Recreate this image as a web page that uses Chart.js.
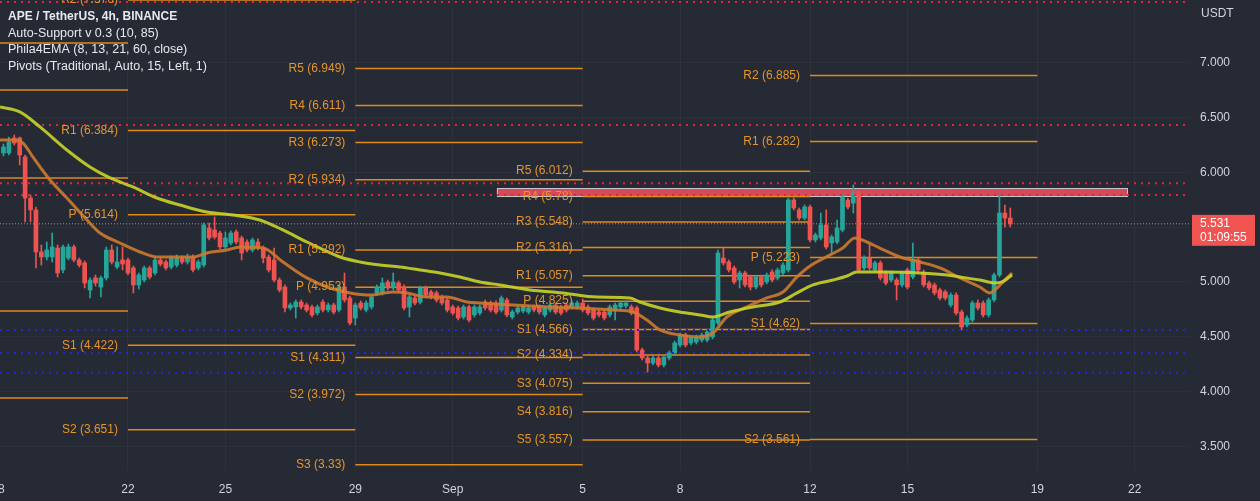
<!DOCTYPE html>
<html>
<head>
<meta charset="utf-8">
<script src="https://cdn.jsdelivr.net/npm/chart.js@4.4.0/dist/chart.umd.min.js"></script>
<style>
  html, body { margin: 0; padding: 0; background: #262a34; }
  #wrap { width: 1260px; height: 501px; }
</style>
</head>
<body>
<div id="wrap"><canvas id="chart" width="1260" height="501"></canvas></div>
<script>
// 4h candles, first one at Aug 18 04:00 (days counted from Aug 1 = 1, Sep 1 = 32)
var firstCandleDay = 18 + 4 / 24;
var candleHours = 4;

var opens = [
  6.178, 6.178, 6.315, 6.315, 6.142, 5.767, 5.658, 5.274, 5.228, 5.228,
  5.310, 5.110, 5.219, 5.320, 5.201, 5.174, 4.927, 5.037, 4.954, 5.037,
  5.292, 5.137, 5.201, 5.201, 5.128, 4.973, 5.018, 5.128, 5.082, 5.201,
  5.183, 5.137, 5.155, 5.219, 5.183, 5.228, 5.128, 5.155, 5.493, 5.475,
  5.447, 5.320, 5.356, 5.457,
  5.402, 5.365, 5.292, 5.365, 5.310, 5.228, 5.201, 5.018, 4.954, 4.763,
  4.772, 4.817, 4.790, 4.772, 4.717, 4.817, 4.744, 4.790, 4.744, 4.954,
  4.854, 4.671, 4.808, 4.744, 4.772, 4.900, 4.900, 5.000, 4.945, 4.991,
  4.954, 4.772, 4.854, 4.817, 4.945, 4.909, 4.900, 4.863, 4.836, 4.772,
  4.763, 4.680, 4.772, 4.699,
  4.717, 4.817, 4.808, 4.808, 4.744, 4.836, 4.680, 4.726, 4.735, 4.726,
  4.772, 4.772, 4.699, 4.744, 4.790, 4.772, 4.790, 4.772, 4.772, 4.808,
  4.772, 4.744, 4.726, 4.726, 4.699, 4.744, 4.772, 4.781, 4.772, 4.763,
  4.379, 4.306, 4.260, 4.306, 4.242, 4.306, 4.352, 4.425, 4.516, 4.443,
  4.452, 4.470, 4.470, 4.498,
  4.626, 5.219, 5.183, 5.128, 5.018, 5.082, 5.046, 4.954, 5.046, 5.000,
  5.091, 5.037, 5.082, 5.110, 5.749, 5.658, 5.584, 5.685, 5.384, 5.402,
  5.521, 5.356, 5.365, 5.475, 5.749, 5.721, 5.813, 5.128, 5.219, 5.110,
  5.174, 5.082, 5.018, 5.018, 4.973, 5.110, 5.046, 5.201, 5.091, 4.991,
  4.973, 4.927, 4.909, 4.790, 4.881, 4.726, 4.607, 4.653, 4.808, 4.808,
  4.699, 4.836, 5.064, 5.630, 5.584
];
var highs = [
  6.260, 6.324, 6.342, 6.324, 6.160, 5.795, 5.685, 5.338, 5.365, 5.447,
  5.338, 5.338, 5.347, 5.338, 5.219, 5.192, 5.037, 5.064, 5.055, 5.320,
  5.338, 5.320, 5.320, 5.219, 5.146, 5.082, 5.146, 5.146, 5.228, 5.228,
  5.201, 5.238, 5.247, 5.238, 5.256, 5.247, 5.201, 5.539, 5.539, 5.594,
  5.466, 5.457, 5.466, 5.475,
  5.420, 5.384, 5.402, 5.393, 5.329, 5.247, 5.310, 5.037, 4.973, 4.808,
  4.836, 4.836, 4.808, 4.790, 4.790, 4.836, 4.808, 4.808, 4.973, 5.082,
  4.872, 4.808, 4.827, 4.827, 4.881, 4.973, 5.037, 5.018, 5.082, 5.009,
  4.973, 4.881, 4.872, 4.963, 4.963, 4.927, 4.918, 4.881, 4.854, 4.790,
  4.781, 4.790, 4.790, 4.790,
  4.790, 4.836, 4.827, 4.827, 4.872, 4.854, 4.744, 4.781, 4.790, 4.781,
  4.790, 4.790, 4.781, 4.808, 4.808, 4.790, 4.808, 4.827, 4.827, 4.845,
  4.790, 4.763, 4.744, 4.744, 4.790, 4.808, 4.827, 4.827, 4.790, 4.781,
  4.397, 4.324, 4.324, 4.324, 4.333, 4.370, 4.461, 4.534, 4.534, 4.507,
  4.516, 4.534, 4.562, 4.671,
  5.292, 5.310, 5.201, 5.146, 5.100, 5.100, 5.064, 5.064, 5.064, 5.082,
  5.110, 5.128, 5.174, 5.767, 5.767, 5.676, 5.703, 5.703, 5.447, 5.630,
  5.658, 5.429, 5.566, 5.795, 5.767, 5.886, 5.831, 5.238, 5.338, 5.192,
  5.192, 5.100, 5.100, 5.037, 5.100, 5.128, 5.356, 5.219, 5.110, 5.009,
  4.991, 4.945, 4.927, 4.900, 4.900, 4.744, 4.690, 4.827, 4.836, 4.827,
  4.854, 5.082, 5.795, 5.703, 5.676
];
var lows = [
  6.151, 6.160, 6.251, 6.068, 5.548, 5.548, 5.128, 5.155, 5.201, 5.183,
  5.046, 5.082, 5.201, 5.183, 5.137, 4.945, 4.854, 4.963, 4.863, 5.018,
  5.164, 5.119, 5.110, 5.064, 4.900, 4.936, 5.000, 5.027, 5.064, 5.146,
  5.110, 5.119, 5.137, 5.164, 5.164, 5.091, 5.110, 5.137, 5.384, 5.393,
  5.301, 5.301, 5.338, 5.347,
  5.201, 5.274, 5.274, 5.292, 5.174, 5.091, 5.000, 4.909, 4.726, 4.744,
  4.671, 4.753, 4.726, 4.680, 4.699, 4.726, 4.726, 4.708, 4.726, 4.817,
  4.607, 4.607, 4.744, 4.726, 4.753, 4.881, 4.881, 4.927, 4.927, 4.909,
  4.744, 4.680, 4.790, 4.799, 4.863, 4.845, 4.817, 4.790, 4.726, 4.699,
  4.653, 4.662, 4.635, 4.680,
  4.699, 4.744, 4.726, 4.708, 4.726, 4.680, 4.662, 4.708, 4.717, 4.708,
  4.726, 4.708, 4.680, 4.726, 4.708, 4.699, 4.726, 4.753, 4.753, 4.726,
  4.699, 4.653, 4.680, 4.653, 4.680, 4.653, 4.753, 4.763, 4.699, 4.361,
  4.288, 4.178, 4.242, 4.224, 4.224, 4.288, 4.333, 4.406, 4.406, 4.425,
  4.434, 4.452, 4.452, 4.480,
  4.607, 5.155, 5.091, 4.982, 4.945, 4.954, 4.927, 4.936, 4.954, 4.982,
  5.000, 5.018, 5.064, 5.091, 5.658, 5.566, 5.566, 5.365, 5.365, 5.384,
  5.301, 5.265, 5.347, 5.457, 5.667, 5.630, 5.091, 5.110, 5.110, 5.091,
  5.018, 4.973, 5.000, 4.836, 4.954, 4.936, 5.027, 5.091, 4.954, 4.927,
  4.881, 4.836, 4.836, 4.772, 4.699, 4.562, 4.589, 4.635, 4.744, 4.680,
  4.680, 4.817, 5.046, 5.502, 5.502
];
var closes = [
  6.233, 6.278, 6.269, 6.160, 5.767, 5.658, 5.274, 5.228, 5.292, 5.320,
  5.082, 5.320, 5.320, 5.201, 5.155, 4.991, 5.018, 4.991, 5.037, 5.292,
  5.183, 5.183, 5.164, 5.082, 4.973, 5.064, 5.128, 5.046, 5.201, 5.164,
  5.128, 5.219, 5.219, 5.183, 5.228, 5.110, 5.183, 5.521, 5.402, 5.411,
  5.320, 5.402, 5.447, 5.365,
  5.265, 5.292, 5.384, 5.310, 5.219, 5.110, 5.018, 4.927, 4.763, 4.790,
  4.817, 4.772, 4.744, 4.699, 4.772, 4.744, 4.790, 4.726, 4.954, 4.836,
  4.626, 4.790, 4.763, 4.808, 4.863, 4.954, 4.991, 4.945, 5.000, 4.927,
  4.763, 4.863, 4.808, 4.945, 4.881, 4.863, 4.836, 4.808, 4.744, 4.717,
  4.671, 4.772, 4.653, 4.772,
  4.772, 4.763, 4.744, 4.726, 4.854, 4.699, 4.726, 4.763, 4.772, 4.763,
  4.744, 4.726, 4.763, 4.790, 4.726, 4.717, 4.744, 4.808, 4.808, 4.744,
  4.717, 4.671, 4.699, 4.671, 4.772, 4.790, 4.808, 4.808, 4.717, 4.379,
  4.306, 4.260, 4.306, 4.242, 4.315, 4.352, 4.443, 4.516, 4.425, 4.489,
  4.498, 4.516, 4.543, 4.653,
  5.265, 5.174, 5.110, 5.000, 5.082, 4.973, 4.954, 5.046, 4.973, 5.064,
  5.018, 5.110, 5.155, 5.749, 5.676, 5.584, 5.685, 5.384, 5.429, 5.521,
  5.320, 5.411, 5.493, 5.776, 5.685, 5.813, 5.110, 5.219, 5.128, 5.174,
  5.037, 4.991, 5.082, 4.973, 5.082, 4.954, 5.201, 5.110, 4.973, 4.945,
  4.900, 4.854, 4.854, 4.881, 4.717, 4.589, 4.671, 4.808, 4.763, 4.699,
  4.836, 5.064, 5.630, 5.584, 5.531
];

// Phila4EMA lines
var emaFastDays = [18.06, 18.46, 18.77, 19.07, 19.60, 20.12, 20.74, 21.14, 21.75, 22.37,
  22.89, 23.51, 24.00, 24.43, 25.05, 25.45, 26.16, 26.77, 27.51, 28.22,
  28.84, 29.45, 30.16, 30.59, 31.21, 31.82, 32.44, 32.84, 33.85, 34.90,
  35.92, 36.93, 37.55, 37.98, 38.38, 38.99, 39.61, 40.01, 40.44, 41.06,
  41.67, 42.17, 42.60, 43.00, 43.62, 44.01, 44.38, 44.75, 45.15, 45.77,
  46.38, 47.00, 47.62, 48.23, 48.54, 48.69, 48.91, 49.22];
var emaFast = [6.297, 6.297, 6.269, 6.142, 5.931, 5.767, 5.566, 5.447, 5.356, 5.274,
  5.228, 5.228, 5.228, 5.265, 5.292, 5.320, 5.310, 5.183, 5.037, 4.945,
  4.900, 4.881, 4.909, 4.900, 4.863, 4.863, 4.817, 4.808, 4.790, 4.772,
  4.763, 4.744, 4.726, 4.653, 4.562, 4.516, 4.498, 4.534, 4.680, 4.772,
  4.854, 4.909, 5.046, 5.146, 5.247, 5.310, 5.402, 5.365, 5.310, 5.228,
  5.183, 5.128, 5.037, 4.954, 4.900, 4.927, 4.991, 5.082];
var emaSlowDays = [18.06, 18.67, 19.29, 20.12, 20.83, 21.45, 22.15, 22.89, 23.60, 24.43,
  25.23, 26.06, 26.77, 27.51, 27.91, 28.53, 29.14, 29.76, 30.37, 30.99,
  31.61, 32.22, 32.84, 33.45, 34.38, 35.39, 36.44, 37.46, 37.76, 38.38,
  38.99, 39.61, 40.01, 40.53, 41.24, 42.07, 42.60, 43.09, 43.71, 44.14,
  44.44, 45.37, 46.38, 47.22, 47.62, 48.23, 48.69, 48.91, 49.22];
var emaSlow = [6.598, 6.553, 6.416, 6.205, 6.050, 5.950, 5.868, 5.767, 5.703, 5.639,
  5.612, 5.566, 5.475, 5.365, 5.310, 5.228, 5.183, 5.155, 5.137, 5.110,
  5.082, 5.046, 5.000, 4.973, 4.927, 4.900, 4.863, 4.854, 4.817, 4.763,
  4.726, 4.699, 4.680, 4.726, 4.772, 4.817, 4.900, 4.973, 5.018, 5.055,
  5.091, 5.091, 5.082, 5.064, 5.046, 5.018, 4.991, 5.000, 5.064];

// weekly pivots (Traditional)
var pivotStart = [15, 22, 29, 36, 43];
var pivotEnd = [22, 29, 36, 43, 50];
var pivotNames = [
  ["", "", "", "", ""],
  ["R2", "R1", "P", "S1", "S2"],
  ["R5", "R4", "R3", "R2", "R1", "P", "S1", "S2", "S3"],
  ["R5", "R4", "R3", "R2", "R1", "P", "S1", "S2", "S3", "S4", "S5"],
  ["R2", "R1", "P", "S1", "S2"]
];
var pivotValues = [
  [7.183, 6.753, 5.95, 4.735, 3.941],
  [7.576, 6.384, 5.614, 4.422, 3.651],
  [6.949, 6.611, 6.273, 5.934, 5.292, 4.953, 4.311, 3.972, 3.33],
  [6.012, 5.78, 5.548, 5.316, 5.057, 4.825, 4.566, 4.334, 4.075, 3.816, 3.557],
  [6.885, 6.282, 5.223, 4.62, 3.561]
];

// Auto-Support levels
var resistLevels = [7.557, 6.434, 5.901, 5.795];
var supportLevels = [4.562, 4.352, 4.171];
var zoneDays = [33.36, 52.76];
var zonePrices = [5.785, 5.858];

var tickDays = [18, 22, 25, 29, 32, 36, 39, 43, 46, 50, 53];
var tickNames = ["18", "22", "25", "29", "Sep", "5", "8", "12", "15", "19", "22"];
var priceTicks = [3.5, 4.0, 4.5, 5.0, 5.5, 6.0, 6.5, 7.0];
var countdown = "01:09:55";
var legendLines = [
  "APE / TetherUS, 4h, BINANCE",
  "Auto-Support v 0.3 (10, 85)",
  "Phila4EMA (8, 13, 21, 60, close)",
  "Pivots (Traditional, Auto, 15, Left, 1)"
];

var xMin = 18.06, xMax = 54.70;
var yMin = 3.274, yMax = 7.575;
var upColor = "#26a69a", downColor = "#ef5350";
var textColor = "#d1d4dc";
var font = "'Liberation Sans', Arial, sans-serif";
var lastPrice = closes[closes.length - 1];

function candleDay(i) {
  return firstCandleDay + i * candleHours / 24;
}

var wickData = [], bodyData = [], candleColors = [];
for (var i = 0; i < closes.length; i++) {
  wickData.push({ x: candleDay(i), y: [lows[i], highs[i]] });
  bodyData.push({ x: candleDay(i), y: [opens[i], closes[i]] });
  candleColors.push(closes[i] >= opens[i] ? upColor : downColor);
}

var pivotLineData = [];
for (var p = 0; p < pivotValues.length; p++) {
  for (var k = 0; k < pivotValues[p].length; k++) {
    pivotLineData.push({ x: pivotStart[p], y: pivotValues[p][k] });
    pivotLineData.push({ x: pivotEnd[p], y: pivotValues[p][k] });
    pivotLineData.push({ x: pivotEnd[p], y: null });
  }
}

function levelData(levels) {
  var out = [];
  for (var j = 0; j < levels.length; j++) {
    out.push({ x: xMin, y: levels[j] });
    out.push({ x: xMax, y: levels[j] });
    out.push({ x: xMax, y: null });
  }
  return out;
}

function lineData(days, values) {
  return days.map(function(d, j) { return { x: d, y: values[j] }; });
}

// chart.js pads the area so edge labels fit; the reference lets them clip
function noPadding(scale) {
  scale.paddingLeft = 0;
  scale.paddingRight = 0;
  scale.paddingTop = 0;
  scale.paddingBottom = 0;
}

var background = {
  id: "background",
  beforeDraw: function(chart) {
    var c = chart.ctx;
    c.save();
    c.fillStyle = "#262a34";
    c.fillRect(0, 0, chart.width, chart.height);
    c.restore();
  },
  beforeDatasetsDraw: function(chart) {
    var c = chart.ctx, xs = chart.scales.x, ys = chart.scales.y;
    var x0 = xs.getPixelForValue(zoneDays[0]), x1 = xs.getPixelForValue(zoneDays[1]);
    var y0 = ys.getPixelForValue(zonePrices[1]), y1 = ys.getPixelForValue(zonePrices[0]);
    c.save();
    c.fillStyle = "rgba(242, 80, 96, 0.85)";
    c.fillRect(x0, y0, x1 - x0, y1 - y0);
    c.strokeStyle = "#c8c8cc";
    c.lineWidth = 1;
    c.strokeRect(x0 + 0.5, y0 + 0.5, x1 - x0, y1 - y0);
    c.restore();
  }
};

var pivotLabels = {
  id: "pivotLabels",
  afterDatasetsDraw: function(chart) {
    var c = chart.ctx, xs = chart.scales.x, ys = chart.scales.y;
    c.save();
    c.font = "12px " + font;
    c.fillStyle = "#e5952b";
    c.textAlign = "right";
    c.textBaseline = "middle";
    for (var p = 0; p < pivotValues.length; p++) {
      var xr = xs.getPixelForValue(pivotStart[p]) - 10;
      for (var k = 0; k < pivotValues[p].length; k++) {
        if (!pivotNames[p][k]) continue;
        c.fillText(pivotNames[p][k] + " (" + pivotValues[p][k] + ")", xr, ys.getPixelForValue(pivotValues[p][k]));
      }
    }
    c.restore();
  }
};

var overlay = {
  id: "overlay",
  afterDraw: function(chart) {
    var c = chart.ctx, ys = chart.scales.y, area = chart.chartArea;
    c.save();
    c.textBaseline = "middle";
    c.textAlign = "left";
    c.fillStyle = "#e6e8ee";
    c.font = "bold 12px " + font;
    c.fillText(legendLines[0], 8, 17);
    c.font = "12.5px " + font;
    c.fillText(legendLines[1], 8, 34);
    c.fillText(legendLines[2], 8, 50);
    c.fillText(legendLines[3], 8, 67);

    c.fillStyle = textColor;
    c.font = "12px " + font;
    c.fillText("USDT", area.right + 11, 14);

    var yp = ys.getPixelForValue(lastPrice);
    c.fillStyle = "#f05350";
    c.fillRect(area.right + 2, yp - 9, 63, 31);
    c.fillStyle = "#ffffff";
    c.fillText(lastPrice.toFixed(3), area.right + 10, yp);
    c.fillText(countdown, area.right + 10, yp + 14);
    c.restore();
  }
};

var ctx = document.getElementById("chart").getContext("2d");
var chart = new Chart(ctx, {
  type: "bar",
  data: {
    datasets: [
      {
        type: "line",
        data: pivotLineData,
        borderColor: "#e08a1a",
        borderWidth: 1.5,
        pointRadius: 0,
        spanGaps: false,
        order: 20
      },
      {
        type: "line",
        data: levelData(resistLevels),
        borderColor: "#e3243d",
        borderWidth: 2,
        borderDash: [2, 5],
        pointRadius: 0,
        spanGaps: false,
        order: 3
      },
      {
        type: "line",
        data: levelData(supportLevels),
        borderColor: "#2525d8",
        borderWidth: 2,
        borderDash: [2, 5],
        pointRadius: 0,
        spanGaps: false,
        order: 3
      },
      {
        type: "line",
        data: [{ x: xMin, y: lastPrice }, { x: xMax, y: lastPrice }],
        borderColor: "rgba(200, 200, 205, 0.7)",
        borderWidth: 1,
        borderDash: [1, 2],
        pointRadius: 0,
        order: 15
      },
      {
        data: wickData,
        backgroundColor: candleColors,
        barThickness: 1,
        grouped: false,
        order: 11
      },
      {
        data: bodyData,
        backgroundColor: candleColors,
        barThickness: 4,
        minBarLength: 1,
        grouped: false,
        order: 10
      },
      {
        type: "line",
        data: lineData(emaFastDays, emaFast),
        borderColor: "rgba(205, 122, 45, 0.9)",
        borderWidth: 3,
        pointRadius: 0,
        cubicInterpolationMode: "monotone",
        order: 2
      },
      {
        type: "line",
        data: lineData(emaSlowDays, emaSlow),
        borderColor: "rgba(200, 212, 40, 0.9)",
        borderWidth: 3,
        pointRadius: 0,
        cubicInterpolationMode: "monotone",
        order: 1
      }
    ]
  },
  options: {
    responsive: false,
    animation: false,
    devicePixelRatio: 1,
    layout: { padding: 0 },
    plugins: {
      legend: { display: false },
      tooltip: { enabled: false }
    },
    scales: {
      x: {
        type: "linear",
        min: xMin,
        max: xMax,
        offset: false,
        grid: { color: "rgba(255, 255, 255, 0.035)", drawTicks: false, offset: false },
        border: { display: false },
        afterBuildTicks: function(scale) {
          scale.ticks = tickDays.map(function(v) { return { value: v }; });
        },
        afterFit: function(scale) {
          scale.height = 30;
          noPadding(scale);
        },
        ticks: {
          autoSkip: false,
          maxRotation: 0,
          padding: 11,
          color: textColor,
          font: { family: font, size: 12 },
          callback: function(value, index) { return tickNames[index]; }
        }
      },
      y: {
        position: "right",
        min: yMin,
        max: yMax,
        grid: { color: "rgba(255, 255, 255, 0.03)", drawTicks: false },
        border: { display: false },
        afterBuildTicks: function(scale) {
          scale.ticks = priceTicks.map(function(v) { return { value: v }; });
        },
        afterFit: function(scale) {
          scale.width = 70;
          noPadding(scale);
        },
        ticks: {
          padding: 10,
          color: textColor,
          font: { family: font, size: 12 },
          callback: function(value) { return value.toFixed(3); }
        }
      }
    }
  },
  plugins: [background, pivotLabels, overlay]
});
</script>
</body>
</html>
